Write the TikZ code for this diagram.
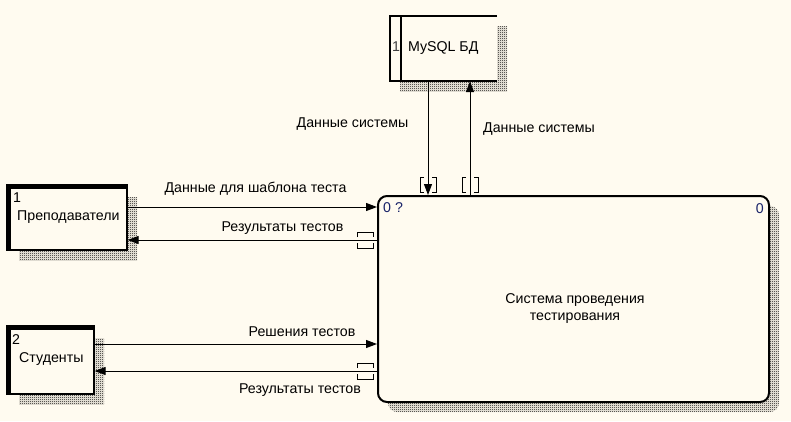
\documentclass[tikz,border=0pt]{standalone}
\usepackage{fontspec}
\setmainfont{Liberation Sans}
\usetikzlibrary{arrows.meta,patterns}

\definecolor{paper}{RGB}{255,251,240}
\definecolor{idnum}{RGB}{25,35,105}

\pgfdeclarepatternformonly{checker}{\pgfpointorigin}{\pgfqpoint{2pt}{2pt}}{\pgfqpoint{2pt}{2pt}}%
{\pgfpathrectangle{\pgfpointorigin}{\pgfqpoint{1pt}{1pt}}%
 \pgfpathrectangle{\pgfqpoint{1pt}{1pt}}{\pgfqpoint{1pt}{1pt}}\pgfusepath{fill}}

\tikzset{
  txt/.style={font=\fontsize{14.2}{17}\selectfont, inner sep=0pt, anchor=base},
  shade/.style={pattern=checker},
  entity/.style={draw, line width=1.3pt, fill=paper, inner sep=0pt},
  store/.style={fill=paper, inner sep=0pt},
  proc/.style={draw, line width=2pt, fill=paper, rounded corners=9pt, inner sep=0pt},
  flow/.style={line width=1pt, -{Triangle[length=11pt,width=8pt]}},
  tunnelv/.pic={\draw[line width=1pt] (-4,-18) -- (-8,-18) -- (-8,-3) -- (-4,-3)
                  (4,-18) -- (8,-18) -- (8,-3) -- (4,-3);},
  tunnelh/.pic={\draw[line width=1pt] (-20,-3) -- (-20,-8) -- (-4,-8) -- (-4,-3)
                  (-20,3) -- (-20,8) -- (-4,8) -- (-4,3);}
}

\begin{document}
\begin{tikzpicture}[x=1pt,y=-1pt]
  \fill[paper] (0,0) rectangle (791,421);
  \useasboundingbox (0,0) rectangle (791,421);

  % shadows
  \fill[shade] (19,197) rectangle (137,260);
  \fill[shade] (19,338) rectangle (104,404);
  \fill[shade] (400,26) rectangle (507,91);
  \fill[shade, rounded corners=9pt] (388,206) rectangle (779,412);

  % boxes
  \node[entity, minimum width=118pt, minimum height=63pt] (teach) at (68,218.5) {};
  \draw[line width=4.5pt] (teach.south west) |- (teach.north east);
  \node[entity, minimum width=85pt, minimum height=66pt] (stud) at (51.5,361) {};
  \draw[line width=4.5pt] (stud.south west) |- (stud.north east);
  \node[store, minimum width=107pt, minimum height=65pt] (db) at (443.5,48.5) {};
  \draw[line width=2pt] (db.north east) -- (db.north west) -- (db.south west) -- (db.south east);
  \draw[line width=2pt] ([xshift=11pt]db.north west) -- ([xshift=11pt]db.south west);
  \node[proc, minimum width=391pt, minimum height=206pt] (sys) at (573.5,299) {};

  % box texts
  \node[txt, anchor=base west] (teachnum) at (13,202) {1};
  \node[txt, anchor=base west] (teachname) at (17,220) {Преподаватели};
  \node[txt, anchor=base west] (studnum) at (12,344) {2};
  \node[txt, anchor=base west] (studname) at (19,362) {Студенты};
  \node[txt, anchor=base west, text=black!75] (dbnum) at (392,51) {1};
  \node[txt, anchor=base west] (dbname) at (408,51) {MySQL БД};
  \node[txt, anchor=base west, text=idnum] (sysnum) at (383,212) {0 ?};
  \node[txt, anchor=base east, text=idnum] (sysref) at (764,213) {0};
  \node[txt, align=center, anchor=center] (sysname) at (575,309) {Система проведения\\тестирования};

  % flows
  \coordinate (down) at (428,0);
  \coordinate (up) at (470,0);
  \coordinate (tin) at (0,207);
  \coordinate (tout) at (0,240);
  \coordinate (sin) at (0,344);
  \coordinate (sout) at (0,371);
  \draw[flow] (down |- db.south) -- (down |- sys.north);
  \draw[flow] (up |- sys.north) -- (up |- db.south);
  \draw[flow] (tin -| teach.east) -- (tin -| sys.west);
  \draw[flow] (tout -| sys.west) -- (tout -| teach.east);
  \draw[flow] (sin -| stud.east) -- (sin -| sys.west);
  \draw[flow] (sout -| sys.west) -- (sout -| stud.east);
  \pic at (down |- sys.north) {tunnelv};
  \pic at (up |- sys.north) {tunnelv};
  \pic at (tout -| sys.west) {tunnelh};
  \pic at (sout -| sys.west) {tunnelh};

  % flow labels
  \node[txt] (l1) at (352.5,127) {Данные системы};
  \node[txt] (l2) at (539,132) {Данные системы};
  \node[txt] (l3) at (255.5,192) {Данные для шаблона теста};
  \node[txt] (l4) at (282.5,231) {Результаты тестов};
  \node[txt] (l5) at (302,336) {Решения тестов};
  \node[txt] (l6) at (300,393) {Результаты тестов};
\end{tikzpicture}
\end{document}
